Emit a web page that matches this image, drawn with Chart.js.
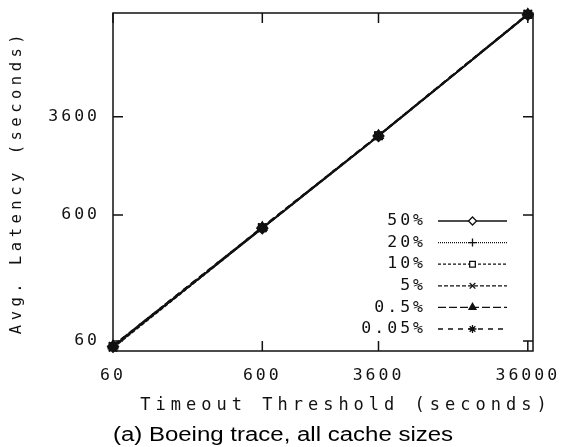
<!DOCTYPE html>
<html>
<head>
<meta charset="utf-8">
<script src="https://cdn.jsdelivr.net/npm/chart.js@4/dist/chart.umd.min.js"></script>
<style>
  html, body { margin: 0; padding: 0; background: #fff; }
  canvas { display: block; }
</style>
</head>
<body>
<canvas id="chart" width="563" height="447"></canvas>
<script>
// timeout thresholds (x) and average latency per cache size (y), seconds
const timeouts = [60, 600, 3600, 36000];
const cacheSizes = ['50%', '20%', '10%', '5%', '0.5%', '0.05%'];
const latency50 = [54, 470, 2540, 23200];
const latency20 = [54, 472, 2545, 23300];
const latency10 = [54, 475, 2550, 23400];
const latency5 = [53, 473, 2548, 23350];
const latency05 = [55, 478, 2560, 23500];
const latency005 = [55, 480, 2570, 23600];
const xTickValues = [60, 600, 3600, 36000];
const yTickValues = [60, 600, 3600];
const xTitle = 'Timeout Threshold (seconds)';
const caption = '(a) Boeing trace, all cache sizes';

const allSeries = [latency50, latency20, latency10, latency5, latency05, latency005];
const pointStyles = ['rectRot', 'cross', 'rect', 'crossRot', 'triangle', 'star'];
const dashes = [[], [1, 1], [3, 2], [4, 2], [8, 3], [5, 5]];
const openMarker = [true, false, true, false, false, false];

const ink = '#111';
const mono = '"DejaVu Sans Mono", monospace';
Chart.defaults.font.family = mono;
Chart.defaults.color = ink;

// gnuplot-ish wide letter spacing: titles first (grid layer), tick labels later (z 1)
const spacing = {
    id: 'spacing',
    beforeUpdate(chart) { chart.ctx.letterSpacing = '3px'; },
    beforeDraw(chart) { chart.ctx.letterSpacing = '4.5px'; },
    afterDatasetsDraw(chart) { chart.ctx.letterSpacing = '3px'; }
};

// border box with inward ticks on all four sides
const frame = {
    id: 'frame',
    afterDatasetsDraw(chart) {
        const {ctx, chartArea: a, scales: {x, y}} = chart;
        const len = 10;
        ctx.save();
        ctx.strokeStyle = ink;
        ctx.lineWidth = 1.5;
        ctx.strokeRect(a.left, a.top, a.right - a.left, a.bottom - a.top);
        ctx.beginPath();
        xTickValues.forEach(v => {
            const px = x.getPixelForValue(v);
            ctx.moveTo(px, a.bottom); ctx.lineTo(px, a.bottom - len);
            ctx.moveTo(px, a.top); ctx.lineTo(px, a.top + len);
        });
        yTickValues.forEach(v => {
            const py = y.getPixelForValue(v);
            ctx.moveTo(a.left, py); ctx.lineTo(a.left + len, py);
            ctx.moveTo(a.right, py); ctx.lineTo(a.right - len, py);
        });
        ctx.stroke();
        ctx.restore();
    }
};

// key in the lower right, x axis title and caption
const key = {
    id: 'key',
    afterDraw(chart) {
        const {ctx, chartArea: a} = chart;
        ctx.save();
        ctx.font = '16.5px ' + mono;
        ctx.letterSpacing = '3px';
        ctx.textAlign = 'right';
        ctx.textBaseline = 'middle';
        chart.data.datasets.forEach((ds, i) => {
            const yy = a.top + 208 + i * 21.6;
            const x0 = a.right - 95, x1 = a.right - 26;
            ctx.fillStyle = ink;
            ctx.fillText(ds.label, a.right - 107, yy);
            ctx.strokeStyle = ink;
            ctx.lineWidth = 1.3;
            ctx.setLineDash(ds.borderDash);
            ctx.beginPath();
            ctx.moveTo(x0, yy); ctx.lineTo(x1, yy);
            ctx.stroke();
            ctx.setLineDash([]);
            ctx.fillStyle = openMarker[i] ? '#fff' : ink;
            Chart.helpers.drawPoint(ctx, {pointStyle: ds.pointStyle, radius: 4, borderWidth: 1.2}, (x0 + x1) / 2, yy);
        });

        ctx.textAlign = 'center';
        ctx.letterSpacing = '5px';
        ctx.font = '17px ' + mono;
        ctx.fillText(xTitle, (a.left + a.right) / 2 + 23, 406);
        ctx.restore();

        ctx.save();
        ctx.letterSpacing = '0px';
        ctx.font = '20px "Liberation Sans", Arial, sans-serif';
        ctx.fillStyle = '#000';
        ctx.textAlign = 'center';
        ctx.textBaseline = 'alphabetic';
        ctx.translate(283, 441);
        ctx.scale(1.2, 1);
        ctx.fillText(caption, 0, 0);
        ctx.restore();
    }
};

const datasets = cacheSizes.map((name, i) => ({
    label: name,
    data: timeouts.map((t, j) => ({x: t, y: allSeries[i][j]})),
    borderColor: ink,
    backgroundColor: ink,
    borderWidth: 1.8,
    borderDash: dashes[i],
    pointStyle: pointStyles[i],
    pointRadius: 5.5,
    pointBorderWidth: 1.3,
    pointBackgroundColor: ink,
    pointBorderColor: ink,
    tension: 0,
    clip: false
}));

new Chart(document.getElementById('chart'), {
    type: 'line',
    data: {datasets: datasets},
    options: {
        responsive: false,
        animation: false,
        devicePixelRatio: 1,
        layout: {padding: {top: 13, right: 30, bottom: 0, left: 0}},
        plugins: {legend: {display: false}, tooltip: {enabled: false}},
        scales: {
            x: {
                type: 'logarithmic',
                min: 60,
                max: 39000,
                bounds: 'data',
                afterBuildTicks: s => { s.ticks = xTickValues.map(v => ({value: v})); },
                afterFit: s => { s.height = 96; s.paddingLeft = 0; s.paddingRight = 0; },
                grid: {display: false, drawTicks: false},
                border: {display: false},
                ticks: {
                    callback: v => String(v),
                    font: {size: 16.5},
                    color: ink,
                    padding: 15,
                    maxRotation: 0,
                    autoSkip: false,
                    z: 1
                }
            },
            y: {
                type: 'logarithmic',
                min: 50,
                max: 24000,
                bounds: 'data',
                afterBuildTicks: s => { s.ticks = yTickValues.map(v => ({value: v})); },
                afterFit: s => { s.width = 113; s.paddingTop = 0; s.paddingBottom = 0; },
                grid: {display: false, drawTicks: false},
                border: {display: false},
                ticks: {
                    callback: v => String(v),
                    font: {size: 16.5},
                    color: ink,
                    padding: 13,
                    autoSkip: false,
                    z: 1
                },
                title: {
                    display: true,
                    text: 'Avg. Latency (seconds)',
                    font: {size: 15.5},
                    color: ink,
                    padding: {top: 8, bottom: 0}
                }
            }
        }
    },
    plugins: [spacing, frame, key]
});
</script>
</body>
</html>
